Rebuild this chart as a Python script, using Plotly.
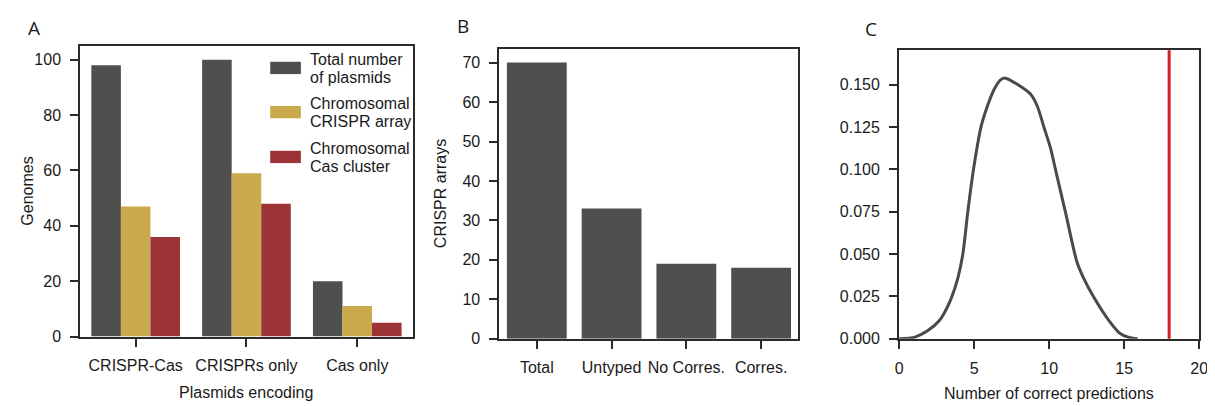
import plotly.graph_objects as go

# ---------------- data ----------------
encoding_cats = ["CRISPR-Cas", "CRISPRs only", "Cas only"]
total_plasmids = [98, 100, 20]
chrom_crispr = [47, 59, 11]
chrom_cas = [36, 48, 5]
series_names = [["Total number", "of plasmids"], ["Chromosomal", "CRISPR array"], ["Chromosomal", "Cas cluster"]]

array_cats = ["Total", "Untyped", "No Corres.", "Corres."]
array_counts = [70, 33, 19, 18]

kde_x = [0, 1.06, 1.94, 2.7, 3.04, 3.48, 3.92, 4.25, 4.58, 4.96, 5.46, 5.9, 6.34, 6.78, 7.1,
         7.9, 8.77, 9.2, 9.65, 10.09, 10.42, 11.08, 11.85, 12.29, 12.95, 14.05, 14.71, 15.26, 15.9]
kde_y = [0, 0.001, 0.005, 0.011, 0.0157, 0.024, 0.036, 0.050, 0.075, 0.100, 0.125, 0.1376, 0.1472, 0.1529, 0.1538,
         0.150, 0.1443, 0.1375, 0.125, 0.1126, 0.100, 0.075, 0.0455, 0.036, 0.025, 0.010, 0.0033, 0.001, 0.0]
observed_correct = [18]

# ---------------- style ----------------
W, H = 1215, 406
GRAY = "#4f4f4d"
GOLD = "#c9aa4c"
RED = "#9c3337"
LINE_RED = "#d11f26"
AX = "#2b2b2b"
TXT = "#1a1a1a"
FONT = "Arial, Liberation Sans, sans-serif"
FS = 16


def fx(p):
    return p / W


def fy(p):
    return 1 - p / H


fig = go.Figure()

colors = [GRAY, GOLD, RED]
for name, vals, c in zip(series_names, [total_plasmids, chrom_crispr, chrom_cas], colors):
    fig.add_trace(go.Bar(x=encoding_cats, y=vals, name=" ".join(name), marker=dict(color=c, line=dict(width=0)),
                         xaxis="x", yaxis="y", showlegend=False))

fig.add_trace(go.Bar(x=array_cats, y=array_counts, marker=dict(color=GRAY, line=dict(width=0)),
                     xaxis="x2", yaxis="y2", showlegend=False, offsetgroup="b"))

fig.add_trace(go.Scatter(x=kde_x, y=kde_y, mode="lines",
                         line=dict(color="#4a4a47", width=3, shape="spline", smoothing=0.8),
                         xaxis="x3", yaxis="y3", showlegend=False))

axis_common = dict(showline=True, mirror=True, linecolor=AX, linewidth=2, ticks="outside", ticklen=8,
                   tickwidth=2, tickcolor=AX, showgrid=False, zeroline=False,
                   tickfont=dict(family=FONT, size=FS, color=TXT))

fig.update_layout(
    width=W, height=H, margin=dict(l=0, r=0, t=0, b=0),
    paper_bgcolor="white", plot_bgcolor="white",
    barmode="group", bargap=0.2, bargroupgap=0,
    font=dict(family=FONT, size=FS, color=TXT),
    xaxis=dict(domain=[fx(69), fx(405)], anchor="y", range=[-0.5, 2.5], ticklabelstandoff=5, **axis_common),
    yaxis=dict(domain=[fy(336), fy(38.7)], anchor="x", range=[0, 105], tickvals=[0, 20, 40, 60, 80, 100],
               ticklabelstandoff=6, **axis_common),
    xaxis2=dict(domain=[fx(492.7), fx(795)], anchor="y2", range=[-0.5, 3.5], ticklabelstandoff=5, **axis_common),
    yaxis2=dict(domain=[fy(338.3), fy(41.7)], anchor="x2", range=[0, 73.5], tickvals=list(range(0, 71, 10)),
                ticklabelstandoff=6, **axis_common),
    xaxis3=dict(domain=[fx(896.7), fx(1200)], anchor="y3", range=[0, 20], tickvals=[0, 5, 10, 15, 20],
                ticklabelstandoff=6, **axis_common),
    yaxis3=dict(domain=[fy(338.3), fy(43.3)], anchor="x3", range=[0, 0.1702],
                tickvals=[0, 0.025, 0.05, 0.075, 0.1, 0.125, 0.15], tickformat=".3f",
                ticklabelstandoff=6, **axis_common),
)

# observed value line
for v in observed_correct:
    fig.add_shape(type="line", xref="x3", yref="y3 domain", x0=v, x1=v, y0=0, y1=1,
                  line=dict(color=LINE_RED, width=3), layer="above")

# manual legend for panel A
patch_centers = [61.3, 106.5, 152.3]
for lines, c, cy in zip(series_names, colors, patch_centers):
    fig.add_shape(type="rect", xref="paper", yref="paper", x0=fx(261), x1=fx(292),
                  y0=fy(cy + 6.3), y1=fy(cy - 6.3), fillcolor=c, line=dict(width=0))
    for k, ln in enumerate(lines):
        fig.add_annotation(text=ln, xref="paper", yref="paper", x=fx(299), y=fy(cy - 8.5 + 18.5 * k),
                           xanchor="left", yanchor="middle", align="left", showarrow=False,
                           font=dict(family=FONT, size=FS, color=TXT))

# axis titles
titles = [
    ("Genomes", fx(16), fy(187), -90),
    ("Plasmids encoding", fx(237), fy(393), 0),
    ("CRISPR arrays", fx(433), fy(190), -90),
    ("Number of correct predictions", fx(1048), fy(394), 0),
]
for t, x, y, ang in titles:
    fig.add_annotation(text=t, xref="paper", yref="paper", x=x, y=y, xanchor="center", yanchor="middle",
                       textangle=ang, showarrow=False, font=dict(family=FONT, size=FS, color=TXT))

# panel letters
for t, x, y in [("A", 22.3, 20), ("B", 455.7, 18.5), ("C", 868.3, 21)]:
    fig.add_annotation(text=t, xref="paper", yref="paper", x=fx(x), y=fy(y), xanchor="center", yanchor="middle",
                       showarrow=False, font=dict(family="Open Sans, DejaVu Sans, sans-serif", size=19, color=TXT))

fig.write_html("out.html")
